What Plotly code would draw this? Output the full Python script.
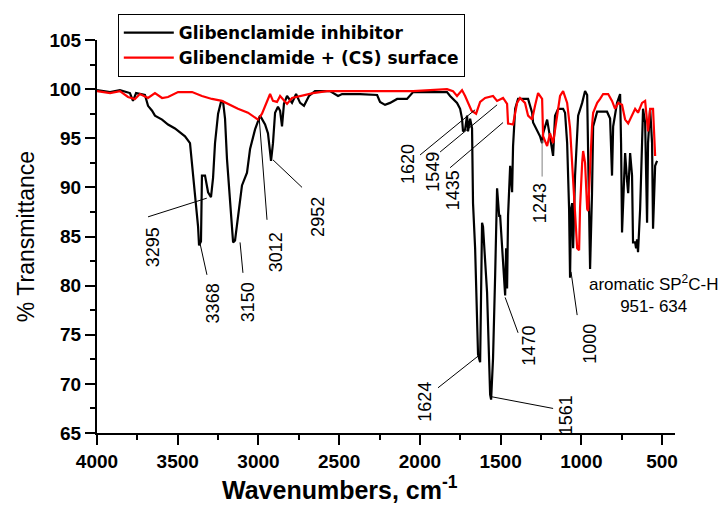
import plotly.graph_objects as go

# ---- data ----
black_wn = [4000, 3919, 3858, 3796, 3777, 3758, 3703, 3684, 3659, 3641, 3597, 3560, 3517, 3486, 3455,
            3424, 3405, 3393, 3374, 3368, 3356, 3350, 3331, 3312, 3294, 3281, 3269, 3250, 3232, 3219,
            3207, 3195, 3176, 3157, 3145, 3127, 3102, 3071, 3052, 3021, 2990, 2959, 2941, 2922, 2910,
            2897, 2879, 2866, 2854, 2842, 2823, 2792, 2767, 2742, 2718, 2687, 2650, 2557, 2507, 2482,
            2371, 2265, 2247, 2216, 2185, 2141, 2080, 2042, 1832, 1813, 1770, 1751, 1739, 1733, 1720,
            1708, 1702, 1689, 1677, 1671, 1658, 1640, 1627, 1615, 1609, 1584, 1565, 1559, 1547, 1534,
            1528, 1522, 1509, 1503, 1485, 1472, 1466, 1460, 1454, 1441, 1429, 1423, 1410, 1392, 1330,
            1305, 1299, 1256, 1243, 1237, 1212, 1194, 1175, 1163, 1144, 1113, 1101, 1088, 1082, 1076,
            1070, 1064, 1057, 1051, 1039, 1020, 995, 977, 964, 958, 946, 934, 927, 902, 841,
            822, 810, 803, 779, 760, 754, 748, 735, 729, 717, 710, 698, 686, 680, 667,
            661, 655, 649, 636, 624, 618, 605, 593, 587, 574, 562, 556, 543, 531]
black_t = [99.9, 99.7, 99.9, 99.6, 98.8, 99.6, 99.4, 98.3, 97.8, 97.3, 96.9, 96.4, 96.0, 95.6, 95.2,
           94.5, 91.5, 89.2, 86.0, 84.1, 84.5, 91.2, 91.2, 89.5, 89.0, 91.0, 94.5, 97.5, 98.7, 98.7,
           97.0, 92.9, 88.9, 84.4, 84.6, 87.1, 90.2, 91.5, 93.9, 95.9, 97.3, 96.4, 95.5, 92.7, 94.5,
           97.6, 98.2, 97.8, 96.2, 98.5, 99.3, 98.6, 99.5, 98.6, 98.3, 99.3, 99.8, 99.8, 99.3, 99.5,
           99.5, 99.4, 98.7, 98.4, 98.6, 99.0, 99.0, 99.7, 99.7, 99.3, 98.6, 98.0, 97.0, 95.7, 95.9,
           97.3, 95.7, 97.0, 96.0, 88.4, 83.8, 73.0, 72.2, 86.4, 86.0, 79.3, 68.9, 68.4, 72.6, 81.0,
           87.8, 89.9, 87.1, 87.1, 82.4, 79.0, 83.8, 79.7, 87.1, 92.2, 89.5, 94.2, 98.0, 99.0, 99.0,
           97.6, 96.6, 95.2, 94.5, 95.5, 96.9, 94.9, 93.2, 97.3, 98.0, 98.0, 97.6, 94.5, 91.2, 87.8,
           80.8, 87.8, 88.4, 83.8, 91.2, 97.3, 98.6, 99.8, 99.4, 94.5, 81.7, 89.4, 96.2, 97.7, 97.7,
           97.0, 91.2, 96.2, 98.6, 99.5, 94.5, 85.4, 91.9, 93.5, 90.7, 89.4, 93.5, 91.2, 84.4, 84.4,
           83.8, 84.7, 83.4, 87.8, 94.5, 98.0, 96.6, 86.4, 94.5, 98.0, 94.5, 85.8, 92.2, 92.7]

red_wn = [4000, 3919, 3858, 3808, 3765, 3734, 3684, 3641, 3597, 3560, 3498, 3411, 3350, 3288, 3226,
          3188, 3127, 3065, 3021, 3003, 2978, 2959, 2928, 2910, 2885, 2866, 2835, 2823, 2792, 2742,
          2662, 2575, 2042, 1832, 1795, 1770, 1739, 1720, 1700, 1680, 1652, 1627, 1596, 1547, 1522,
          1485, 1460, 1454, 1423, 1398, 1380, 1349, 1330, 1305, 1287, 1268, 1243, 1237, 1212, 1194,
          1175, 1150, 1132, 1113, 1088, 1070, 1051, 1039, 1026, 1014, 1008, 995, 989, 977, 964,
          958, 946, 934, 927, 902, 884, 865, 834, 810, 791, 772, 748, 729, 710, 686,
          667, 649, 624, 605, 587, 574, 556, 543]
red_t = [99.8, 99.6, 99.8, 99.2, 99.0, 99.5, 99.1, 99.6, 99.1, 99.2, 99.7, 99.7, 99.3, 99.0, 98.8,
         98.5, 98.0, 97.6, 97.1, 96.9, 97.5, 98.3, 99.5, 98.8, 98.7, 99.3, 98.8, 98.5, 99.1, 99.3,
         99.6, 99.8, 99.8, 100.0, 99.8, 99.3, 99.9, 99.3, 98.6, 97.8, 97.5, 98.7, 99.1, 99.3, 98.8,
         99.1, 98.5, 96.5, 96.4, 98.6, 99.1, 98.6, 97.3, 96.9, 98.3, 99.6, 99.0, 95.2, 94.2, 95.5,
         94.5, 97.3, 99.3, 99.8, 98.6, 96.0, 91.2, 87.1, 83.8, 83.6, 88.0, 92.5, 93.7, 92.5, 87.8,
         87.6, 92.7, 96.2, 97.6, 98.6, 99.0, 99.5, 99.5, 98.8, 98.0, 98.6, 98.4, 96.9, 96.5, 97.3,
         98.0, 97.6, 98.6, 98.8, 95.7, 98.0, 98.0, 93.2]

series_names = ["Glibenclamide inhibitor", "Glibenclamide + (CS) surface"]
series_colors = ["#000000", "#ff0000"]

x_ticks = [4000, 3500, 3000, 2500, 2000, 1500, 1000, 500]
y_ticks = [65, 70, 75, 80, 85, 90, 95, 100, 105]

# peak labels: text, label centre (wn, T), leader start (wn, T), leader end (wn, T)
peak_text = ["3295", "3368", "3150", "3012", "2952", "1620", "1549", "1435", "1243",
             "1624", "1561", "1470", "1000"]
peak_lx = [3653, 3281, 3065, 2891, 2631, 2073, 1918, 1795, 1256, 1974, 1095, 1330, 952]
peak_ly = [83.9, 78.2, 78.3, 83.4, 87.0, 92.4, 91.6, 89.7, 88.4, 68.2, 66.8, 73.9, 74.1]
lead_x0 = [3684, 3319, 3096, 2947, 2730, 1999, 1875, 1813, 1243, 1888, 1559, 1392, 1026]
lead_y0 = [87.0, 81.1, 81.3, 86.7, 90.0, 93.3, 93.6, 92.0, 94.8, 69.6, 68.7, 75.2, 77.0]
lead_x1 = [3320, 3362, 3114, 2996, 2910, 1658, 1522, 1485, 1243, 1634, 1175, 1472, 1064]
lead_y1 = [88.9, 84.3, 84.4, 97.2, 92.8, 97.9, 98.4, 96.6, 91.1, 72.9, 67.5, 78.8, 81.4]
lead_col = ["black"] * 8 + ["#808080"] + ["black"] * 4

FONT = "Liberation Sans, Arial, sans-serif"
LEGEND_FONT = "DejaVu Sans, Liberation Sans, sans-serif"

fig = go.Figure()
for wn, t, name, col in [(black_wn, black_t, series_names[0], series_colors[0]),
                         (red_wn, red_t, series_names[1], series_colors[1])]:
    fig.add_trace(go.Scatter(x=wn, y=t, mode="lines", name="<b>" + name + "</b>",
                             line=dict(color=col, width=2.2)))

shapes = []
for x0, y0, x1, y1, c in zip(lead_x0, lead_y0, lead_x1, lead_y1, lead_col):
    shapes.append(dict(type="line", xref="x", yref="y", x0=x0, y0=y0, x1=x1, y1=y1,
                       line=dict(color=c, width=1)))

annotations = []
for txt, lx, ly in zip(peak_text, peak_lx, peak_ly):
    annotations.append(dict(x=lx, y=ly, xref="x", yref="y", text=txt, showarrow=False,
                            textangle=-90, xanchor="center", yanchor="middle",
                            font=dict(family=FONT, size=18, color="black")))
annotations.append(dict(x=555, y=79.1, xref="x", yref="y",
                        text="aromatic SP<sup>2</sup>C-H<br>951- 634", showarrow=False,
                        align="center", xanchor="center", yanchor="middle",
                        font=dict(family=FONT, size=17, color="black")))
# x axis title
annotations.append(dict(x=0.42, y=-0.14, xref="paper", yref="paper",
                        text="<b>Wavenumbers, cm<sup>-1</sup></b>", showarrow=False,
                        xanchor="center", yanchor="middle",
                        font=dict(family=FONT, size=25, color="black")))

fig.update_layout(
    width=727, height=507,
    margin=dict(l=97, r=52, t=40, b=74),
    paper_bgcolor="white", plot_bgcolor="white",
    font=dict(family=FONT, color="black"),
    shapes=shapes, annotations=annotations,
    legend=dict(x=0.036, y=1.066, xanchor="left", yanchor="top",
                bordercolor="black", borderwidth=1, bgcolor="white",
                font=dict(family=LEGEND_FONT, size=17, color="black"),
                itemwidth=50, tracegroupgap=0),
    xaxis=dict(range=[4000, 420], autorange=False, tickmode="array", tickvals=x_ticks,
               ticks="outside", ticklen=10, tickwidth=2, tickcolor="black",
               showline=True, linecolor="black", linewidth=2, showgrid=False, zeroline=False,
               minor=dict(dtick=250, ticks="outside", ticklen=5, tickwidth=2, tickcolor="black"),
               tickfont=dict(family=FONT, size=19, weight="bold")),
    yaxis=dict(range=[65, 105], autorange=False, tickmode="array", tickvals=y_ticks,
               ticks="outside", ticklen=10, tickwidth=2, tickcolor="black",
               showline=True, linecolor="black", linewidth=2, showgrid=False, zeroline=False,
               minor=dict(dtick=2.5, ticks="outside", ticklen=5, tickwidth=2, tickcolor="black"),
               tickfont=dict(family=FONT, size=19, weight="bold"),
               title=dict(text="% Transmittance", standoff=8,
                          font=dict(family=FONT, size=23))),
)

fig.write_html("out.html")
